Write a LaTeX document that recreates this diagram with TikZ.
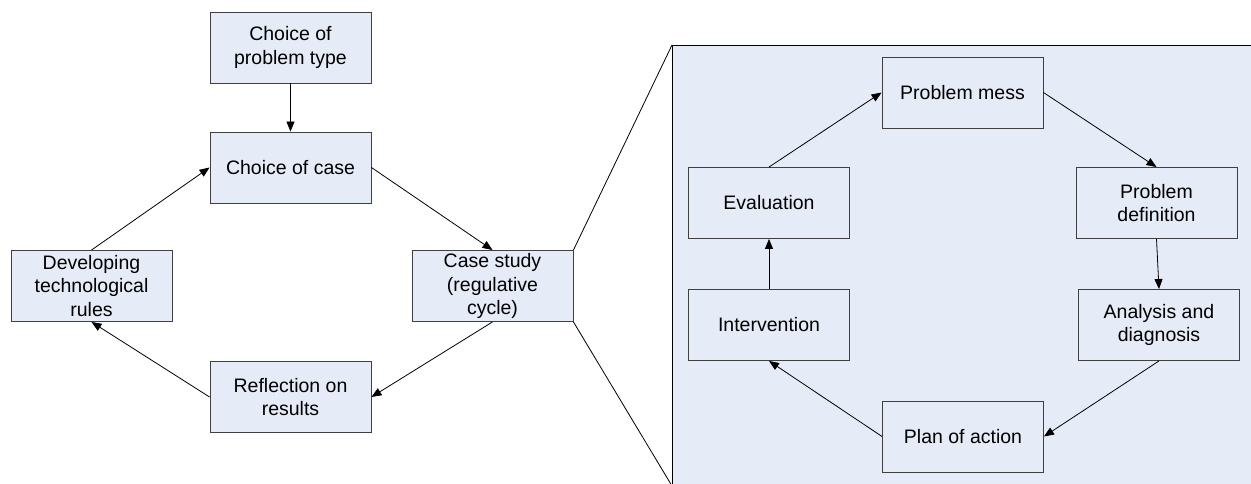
\documentclass[tikz,border=0pt]{standalone}
\usepackage{fontspec}
\setmainfont{Liberation Sans}
\usetikzlibrary{arrows.meta}
\definecolor{boxfill}{HTML}{E6ECF7}
\definecolor{boxline}{HTML}{404040}
\tikzset{
  stagebox/.style={draw=boxline, fill=boxfill, line width=0.9pt,
    minimum width=161pt, minimum height=71pt, inner sep=2pt,
    align=center, font=\fontsize{19.5}{23.3}\selectfont},
  flow/.style={line width=0.8pt, -{Triangle[length=10pt,width=8pt]}},
  zoomline/.style={line width=0.8pt}
}
\begin{document}
\begin{tikzpicture}[x=1pt, y=-1pt]
            \useasboundingbox (0, 0) rectangle (1251, 484);
            % right panel
            \coordinate (panelnw) at (672, 45);
            \coordinate (panelsw) at (672, 486);
            \draw[line width=0.9pt, fill=boxfill] (panelnw) rectangle (1254, 487);
            % left cycle
            \node[stagebox] (ptype) at (290.5, 47.5) {Choice of\\problem type};
            \node[stagebox] (case) at (290.5, 167.5) {Choice of case};
            \node[stagebox] (rules) at (91.5, 286) {Developing\\technological\\rules};
            \node[stagebox] (study) at (492.5, 286) {Case study\\(regulative\\cycle)};
            \node[stagebox] (reflect) at (290.5, 397) {Reflection on\\results};
            % regulative cycle
            \node[stagebox] (mess) at (962.5, 92.5) {Problem mess};
            \node[stagebox] (define) at (1156.5, 203) {Problem\\definition};
            \node[stagebox] (analysis) at (1159, 325) {Analysis and\\diagnosis};
            \node[stagebox] (plan) at (963, 436.5) {Plan of action};
            \node[stagebox] (interv) at (769, 325) {Intervention};
            \node[stagebox] (eval) at (769, 203) {Evaluation};
            % connectors
            \draw[flow] (ptype) -- (case);
            \draw[flow] (case.east) -- (study.north);
            \draw[flow] (study.south) -- (reflect.east);
            \draw[flow] (reflect.west) -- (rules.south);
            \draw[flow] (rules.north) -- (case.west);
            \draw[flow] (mess.east) -- (define.north);
            \draw[flow] (define.south) -- (analysis.north);
            \draw[flow] (analysis.south) -- (plan.east);
            \draw[flow] (plan.west) -- (interv.south);
            \draw[flow] (interv) -- (eval);
            \draw[flow] (eval.north) -- (mess.west);
            % zoom lines
            \draw[zoomline] (study.north east) -- (panelnw);
            \draw[zoomline] (study.south east) -- (panelsw);
        \end{tikzpicture}
\end{document}
